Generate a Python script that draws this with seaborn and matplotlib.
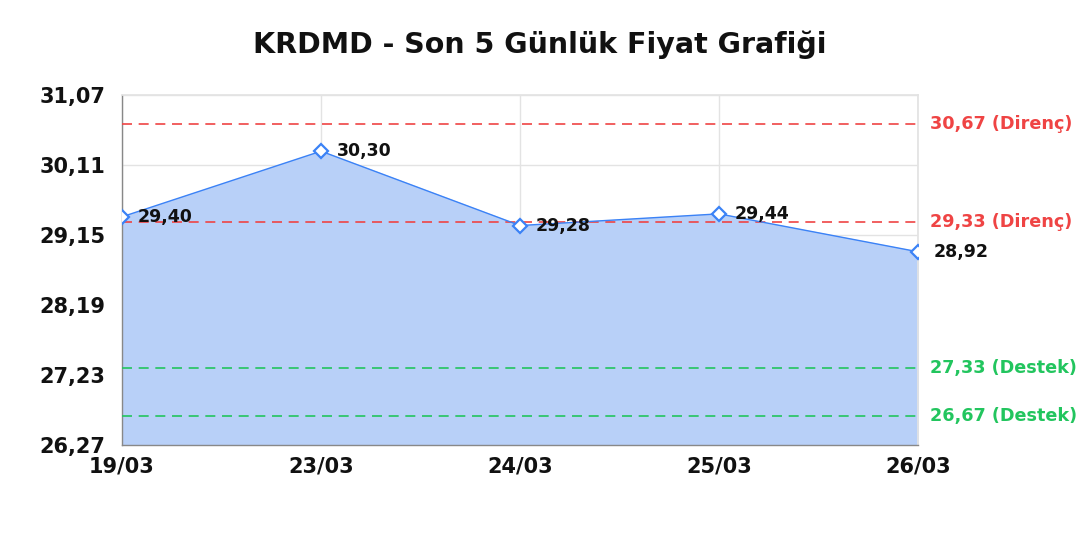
import numpy as np
import pandas as pd
import matplotlib
matplotlib.use('Agg')
import matplotlib.pyplot as plt
import seaborn as sns

# Veriler
tarihler = ['19/03', '23/03', '24/03', '25/03', '26/03']
fiyatlar = [29.40, 30.30, 29.28, 29.44, 28.92]
direnc = [30.67, 29.33]
destek = [27.33, 26.67]
y_ticks = [26.27, 27.23, 28.19, 29.15, 30.11, 31.07]

sns.set_theme(style='white')
plt.rcParams['font.family'] = ['DejaVu Sans']

df = pd.DataFrame({'x': range(len(tarihler)), 'fiyat': fiyatlar})

fig = plt.figure(figsize=(10.8, 5.4), dpi=100)
ax = fig.add_axes([0.113, 0.176, 0.737, 0.648])

ymin, ymax = y_ticks[0], y_ticks[-1]

# Alan ve cizgi
ax.fill_between(df['x'], df['fiyat'], ymin, color='#b8d0f8', zorder=1)
sns.lineplot(data=df, x='x', y='fiyat', ax=ax, color='#3b82f6', linewidth=1,
             marker='D', markersize=7, markerfacecolor='white',
             markeredgecolor='#3b82f6', markeredgewidth=1.6, zorder=4)

for i, v in enumerate(fiyatlar):
    ax.text(i + 0.08, v, '{:.2f}'.format(v).replace('.', ','), fontsize=12.5,
            fontweight='bold', color='#111111', va='center', ha='left', zorder=5)

# Direnc / destek cizgileri
for v in direnc:
    ax.axhline(v, color='#ef4444', linestyle=(0, (6, 4)), linewidth=1.2, zorder=3)
    ax.text(4.06, v, '{:.2f} (Direnç)'.format(v).replace('.', ','), color='#ef4444',
            fontsize=12.7, fontweight='bold', va='center', ha='left', clip_on=False)
for v in destek:
    ax.axhline(v, color='#22c55e', linestyle=(0, (6, 4)), linewidth=1.2, zorder=3)
    ax.text(4.06, v, '{:.2f} (Destek)'.format(v).replace('.', ','), color='#22c55e',
            fontsize=12.7, fontweight='bold', va='center', ha='left', clip_on=False)

ax.set_xlim(0, len(tarihler) - 1)
ax.set_ylim(ymin, ymax)
ax.set_xticks(range(len(tarihler)))
ax.set_xticklabels(tarihler)
ax.set_yticks(y_ticks)
ax.set_yticklabels(['{:.2f}'.format(t).replace('.', ',') for t in y_ticks])
ax.tick_params(axis='both', labelsize=15, length=0)
ax.tick_params(axis='y', pad=12)
ax.tick_params(axis='x', pad=8)
for lbl in ax.get_xticklabels() + ax.get_yticklabels():
    lbl.set_fontweight('bold')
    lbl.set_color('#111111')

ax.grid(True, color='#e3e3e3', linewidth=1, zorder=0)
ax.set_axisbelow(True)
ax.set_xlabel('')
ax.set_ylabel('')
for s in ['top', 'right']:
    ax.spines[s].set_color('#e3e3e3')
for s in ['left', 'bottom']:
    ax.spines[s].set_color('#888888')
    ax.spines[s].set_linewidth(1)

fig.suptitle('KRDMD - Son 5 Günlük Fiyat Grafiği', fontsize=20.5, fontweight='bold',
             y=0.917, va='center', color='#111111')

fig.savefig('out.png', dpi=100)
